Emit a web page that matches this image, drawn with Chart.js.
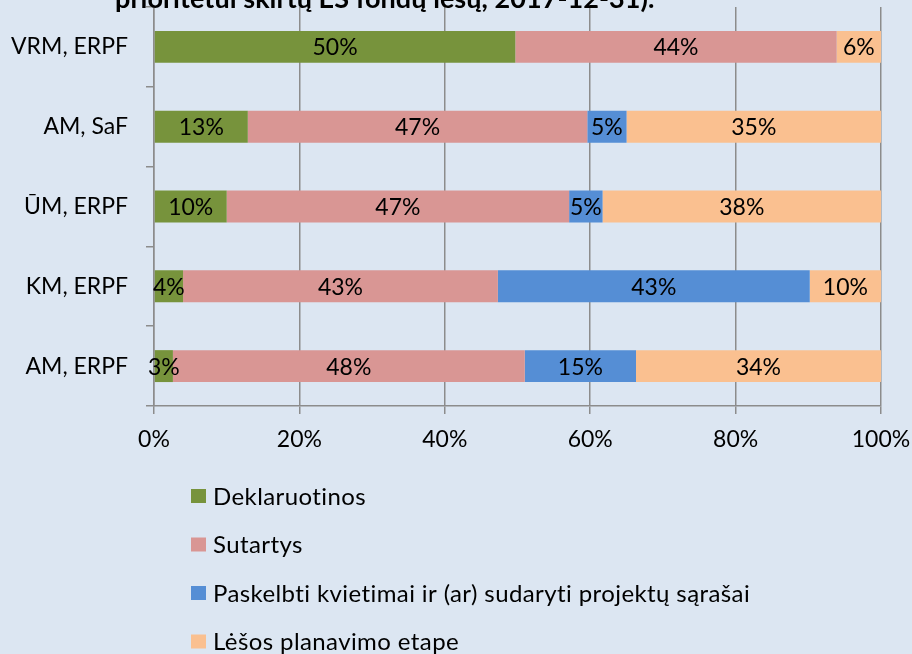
<!DOCTYPE html>
<html>
<head>
<meta charset="utf-8">
<script src="https://cdn.jsdelivr.net/npm/chart.js@4"></script>
<style>
    html, body { margin: 0; padding: 0; background: #dce6f2; }
    #wrap { width: 912px; height: 654px; position: relative; }
</style>
</head>
<body>
<div id="wrap"><canvas id="myChart"></canvas></div>
<script>
    const categories = ['VRM, ERPF', 'AM, SaF', 'ŪM, ERPF', 'KM, ERPF', 'AM, ERPF'];
    const seriesNames = ['Deklaruotinos', 'Sutartys', 'Paskelbti kvietimai ir (ar) sudaryti projektų sąrašai', 'Lėšos planavimo etape'];
    const deklaruotinos = [49.7, 12.9, 10.0, 4.0, 2.6];
    const sutartys = [44.2, 46.7, 47.1, 43.3, 48.4];
    const paskelbti = [0, 5.4, 4.6, 42.9, 15.3];
    const planavimo = [6.1, 35.0, 38.3, 9.8, 33.7];
    const xTicks = [0, 20, 40, 60, 80, 100];
    const colors = ['#77933c', '#d99694', '#558ed5', '#fac090'];
    const titleText = 'prioritetui skirtų ES fondų lėšų, 2017-12-31).';

    const FONT = 'Lato, Calibri, sans-serif';

    // bar value labels, centred in each segment
    const valueLabels = {
        id: 'valueLabels',
        afterDatasetsDraw(chart) {
            const ctx = chart.ctx;
            ctx.save();
            ctx.font = '23px ' + FONT;
            ctx.fillStyle = '#000000';
            ctx.textAlign = 'center';
            ctx.textBaseline = 'middle';
            chart.data.datasets.forEach((ds, i) => {
                const meta = chart.getDatasetMeta(i);
                meta.data.forEach((bar, j) => {
                    const v = ds.data[j];
                    if (!v) return;
                    const p = bar.getProps(['x', 'y', 'base'], true);
                    ctx.fillText(Math.round(v) + '%', (p.x + p.base) / 2, p.y + 1);
                });
            });
            ctx.restore();
        }
    };

    // clipped title at the top + vertical legend at the bottom
    const extras = {
        id: 'extras',
        afterDraw(chart) {
            const ctx = chart.ctx;
            ctx.save();
            // a little letter spacing also stops the "ti" ligature
            ctx.letterSpacing = '0.05px';
            ctx.font = 'bold 27px ' + FONT;
            ctx.fillStyle = '#000000';
            ctx.textAlign = 'left';
            ctx.textBaseline = 'alphabetic';
            ctx.fillText(titleText, 115, 8);

            ctx.letterSpacing = '0.4px';
            ctx.font = '24px ' + FONT;
            ctx.textBaseline = 'middle';
            chart.data.datasets.forEach((ds, i) => {
                const y = chart.chartArea.bottom + 90 + i * 48.5;
                ctx.fillStyle = ds.backgroundColor;
                ctx.fillRect(191, y - 7, 15, 14);
                ctx.fillStyle = '#000000';
                ctx.fillText(ds.label, 213, y + 1);
            });
            ctx.restore();
        }
    };

    const ctx_1 = document.getElementById('myChart').getContext('2d');
    const myChart = new Chart(ctx_1, {
        type: 'bar',
        data: {
            labels: categories,
            datasets: [
                { label: seriesNames[0], data: deklaruotinos, backgroundColor: colors[0] },
                { label: seriesNames[1], data: sutartys, backgroundColor: colors[1] },
                { label: seriesNames[2], data: paskelbti, backgroundColor: colors[2] },
                { label: seriesNames[3], data: planavimo, backgroundColor: colors[3] }
            ]
        },
        options: {
            indexAxis: 'y',
            responsive: true,
            maintainAspectRatio: false,
            animation: false,
            categoryPercentage: 1,
            barPercentage: 0.4,
            layout: {
                padding: { top: 7, right: 31, bottom: 188, left: 0 }
            },
            scales: {
                x: {
                    stacked: true,
                    min: 0,
                    max: 100,
                    afterFit(scale) {
                        scale.height = 60;
                        scale.paddingLeft = 0;
                        scale.paddingRight = 0;
                    },
                    afterBuildTicks(scale) { scale.ticks = xTicks.map(v => ({ value: v })); },
                    grid: { color: '#8c8c8c', lineWidth: 1.5, tickLength: 8 },
                    border: { color: '#8c8c8c', width: 1.5 },
                    ticks: {
                        color: '#000000',
                        padding: 12,
                        maxRotation: 0,
                        font: { family: FONT, size: 23 },
                        callback: v => v + '%'
                    }
                },
                y: {
                    stacked: true,
                    afterFit(scale) {
                        scale.width = 154;
                        scale.paddingTop = 0;
                        scale.paddingBottom = 0;
                    },
                    grid: { drawOnChartArea: false, color: '#8c8c8c', lineWidth: 1.5, tickLength: 8 },
                    border: { color: '#8c8c8c', width: 1.5 },
                    ticks: {
                        color: '#000000',
                        padding: 18,
                        font: { family: FONT, size: 23 }
                    }
                }
            },
            plugins: {
                legend: { display: false },
                tooltip: { enabled: false }
            }
        },
        plugins: [valueLabels, extras]
    });
</script>
</body>
</html>
